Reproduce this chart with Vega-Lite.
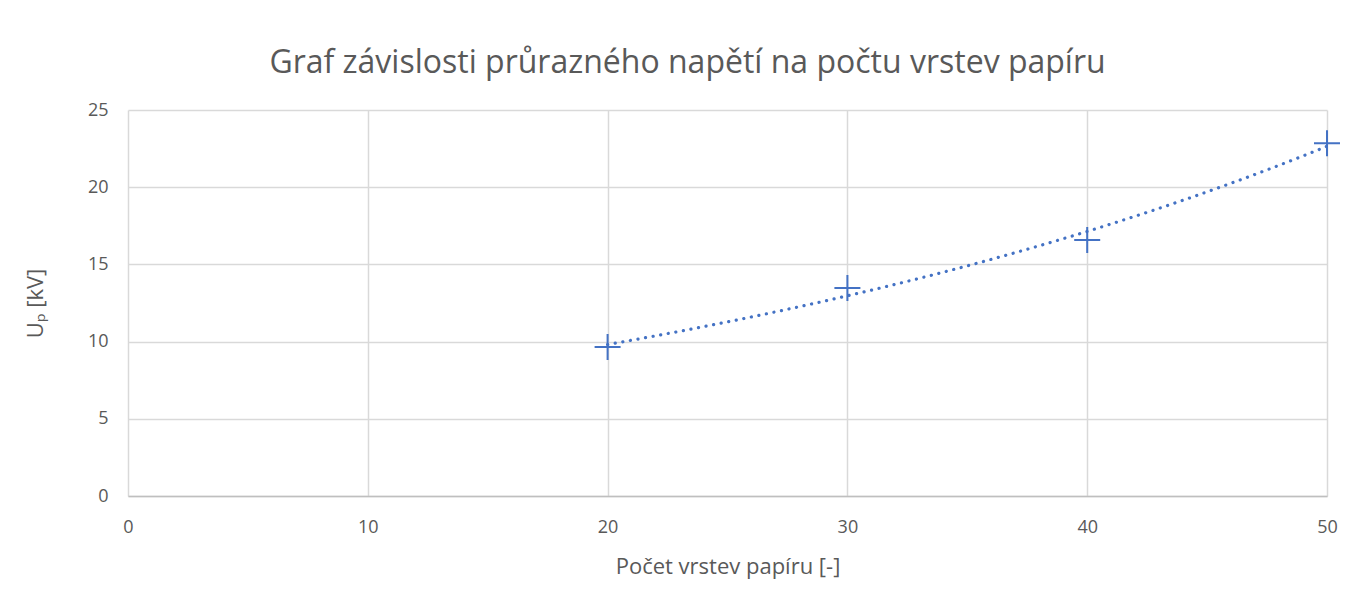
{
  "$schema": "https://vega.github.io/schema/vega-lite/v6.json",
  "autosize": "none",
  "width": 1199,
  "height": 386,
  "padding": {"left": 128, "top": 110, "right": 31, "bottom": 114},
  "background": "white",
  "config": {
    "font": "Open Sans",
    "view": {"stroke": null},
    "axis": {
      "labelColor": "#595959",
      "titleColor": "#595959",
      "labelFontSize": 18,
      "titleFontSize": 22,
      "titleFontWeight": "normal",
      "gridColor": "#d9d9d9",
      "gridWidth": 1.5,
      "ticks": false,
      "labelFont": "Open Sans",
      "titleFont": "Open Sans",
      "labelFlush": false
    }
  },
  "title": {
    "text": "Graf závislosti průrazného napětí na počtu vrstev papíru",
    "fontSize": 32,
    "font": "Open Sans",
    "fontWeight": "normal",
    "color": "#595959",
    "anchor": "middle",
    "offset": 21,
    "dx": -40
  },
  "data": {
    "values": [
      {"n": 20, "U": 9.65},
      {"n": 30, "U": 13.47},
      {"n": 40, "U": 16.58},
      {"n": 50, "U": 22.84}
    ]
  },
  "layer": [
    {
      "transform": [
        {"regression": "U", "on": "n", "method": "exp", "extent": [20, 50], "params": false}
      ],
      "mark": {"type": "line", "color": "#4472C4", "strokeWidth": 3.2, "strokeDash": [0.1, 7.6], "strokeCap": "round", "interpolate": "monotone"},
      "encoding": {
        "x": {"field": "n", "type": "quantitative"},
        "y": {"field": "U", "type": "quantitative"}
      }
    },
    {
      "mark": {"type": "point", "shape": "M-1,0H1M0,-1V1", "filled": false, "stroke": "#4472C4", "strokeWidth": 2, "size": 676, "opacity": 1},
      "encoding": {
        "x": {
          "field": "n",
          "type": "quantitative",
          "scale": {"domain": [0, 50], "nice": false},
          "axis": {
            "title": "Počet vrstev papíru [-]",
            "values": [0, 10, 20, 30, 40, 50],
            "domainColor": "#bfbfbf",
            "domainWidth": 1.5,
            "labelPadding": 22,
            "titlePadding": 20
          }
        },
        "y": {
          "field": "U",
          "type": "quantitative",
          "scale": {"domain": [0, 25], "nice": false},
          "axis": {
            "title": "Uₚ [kV]",
            "values": [0, 5, 10, 15, 20, 25],
            "domain": false,
            "labelPadding": 20,
            "titlePadding": 40
          }
        }
      }
    }
  ]
}
